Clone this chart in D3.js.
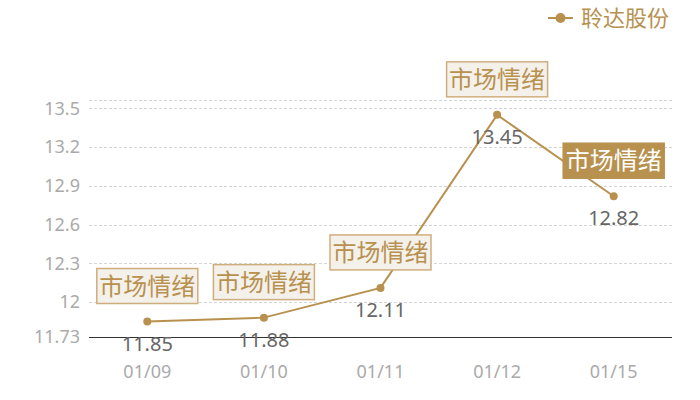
<!DOCTYPE html>
<html>
<head>
<meta charset="utf-8">
<script src="https://cdn.jsdelivr.net/npm/d3@7"></script>
<style>
  html, body { margin: 0; padding: 0; background: #fff; }
  svg { display: block; font-family: "Noto Sans CJK SC", "Noto Sans", sans-serif; }
  .num { font-family: "Noto Sans", "DejaVu Sans", sans-serif; }
</style>
</head>
<body>
<div id="chart"></div>
<script>
// data
const dates = ["01/09", "01/10", "01/11", "01/12", "01/15"];
const prices = [11.85, 11.88, 12.11, 13.45, 12.82];
const tags = ["市场情绪", "市场情绪", "市场情绪", "市场情绪", "市场情绪"];
const highlighted = [false, false, false, false, true];
const yTicks = [11.73, 12, 12.3, 12.6, 12.9, 13.2, 13.5];
const seriesName = "聆达股份";

const width = 700;
const height = 400;
const margin = {top: 100, right: 28, bottom: 63, left: 89};
const gold = "#b8914f";

const svg = d3.select("#chart")
    .append("svg")
    .attr("width", width)
    .attr("height", height);

const x = d3.scaleBand()
    .domain(dates)
    .range([margin.left, width - margin.right]);

const y = d3.scaleLinear()
    .domain([11.73, 13.565])
    .range([height - margin.bottom, margin.top]);

// gridlines
const gridVals = yTicks.slice(1).concat([y.domain()[1]]);
svg.append("g")
    .selectAll("line")
    .data(gridVals)
    .join("line")
        .attr("x1", margin.left)
        .attr("x2", width - margin.right)
        .attr("y1", d => Math.round(y(d)) + 0.5)
        .attr("y2", d => Math.round(y(d)) + 0.5)
        .attr("stroke", "#d4d4d4")
        .attr("stroke-dasharray", "3,2");

// y labels
svg.append("g")
    .selectAll("text")
    .data(yTicks)
    .join("text")
        .attr("class", "num")
        .attr("x", margin.left - 9)
        .attr("y", d => y(d))
        .attr("dy", "0.35em")
        .attr("text-anchor", "end")
        .attr("font-size", 18)
        .attr("fill", "#aaa")
        .text(d => d);

// x axis line
svg.append("line")
    .attr("x1", margin.left)
    .attr("x2", width - margin.right)
    .attr("y1", Math.round(y(11.73)) + 0.5)
    .attr("y2", Math.round(y(11.73)) + 0.5)
    .attr("stroke", "#333");

// x labels
svg.append("g")
    .selectAll("text")
    .data(dates)
    .join("text")
        .attr("class", "num")
        .attr("x", d => x(d) + x.bandwidth() / 2)
        .attr("y", 372)
        .attr("dy", "0.35em")
        .attr("text-anchor", "middle")
        .attr("font-size", 18)
        .attr("fill", "#aaa")
        .text(d => d);

const pts = dates.map((d, i) => ({date: d, value: prices[i], tag: tags[i], hi: highlighted[i]}));

// line
const line = d3.line()
    .x(d => x(d.date) + x.bandwidth() / 2)
    .y(d => y(d.value));

svg.append("path")
    .datum(pts)
    .attr("d", line)
    .attr("fill", "none")
    .attr("stroke", gold)
    .attr("stroke-width", 2);

svg.append("g")
    .selectAll("circle")
    .data(pts)
    .join("circle")
        .attr("cx", d => x(d.date) + x.bandwidth() / 2)
        .attr("cy", d => y(d.value))
        .attr("r", 4)
        .attr("fill", gold);

// value labels
svg.append("g")
    .selectAll("text")
    .data(pts)
    .join("text")
        .attr("class", "num")
        .attr("x", d => x(d.date) + x.bandwidth() / 2)
        .attr("y", d => y(d.value) + 22)
        .attr("dy", "0.35em")
        .attr("text-anchor", "middle")
        .attr("font-size", 20)
        .attr("fill", "#666")
        .text(d => d.value);

// tag boxes
const boxW = 101, boxH = 35;
const tagG = svg.append("g")
    .selectAll("g")
    .data(pts)
    .join("g")
        .attr("transform", d => `translate(${x(d.date) + x.bandwidth() / 2},${y(d.value) - 18 - boxH / 2})`);

tagG.append("rect")
    .attr("x", -boxW / 2)
    .attr("y", -boxH / 2)
    .attr("width", boxW)
    .attr("height", boxH)
    .attr("fill", d => d.hi ? "#b8914f" : "#f4f0ea")
    .attr("stroke", d => d.hi ? "#b8914f" : "#cfae7e")
    .attr("stroke-width", 1.5);

tagG.append("text")
    .attr("text-anchor", "middle")
    .attr("dy", "0.36em")
    .attr("font-size", 24)
    .attr("fill", d => d.hi ? "#fff" : gold)
    .text(d => d.tag);

// legend
const legend = svg.append("g").attr("transform", "translate(548,18)");
legend.append("line")
    .attr("x1", 0).attr("x2", 25)
    .attr("stroke", gold).attr("stroke-width", 2);
legend.append("circle")
    .attr("cx", 12.5).attr("r", 5).attr("fill", gold);
legend.append("text")
    .attr("x", 33)
    .attr("dy", "0.36em")
    .attr("font-size", 22)
    .attr("fill", gold)
    .text(seriesName);
</script>
</body>
</html>
